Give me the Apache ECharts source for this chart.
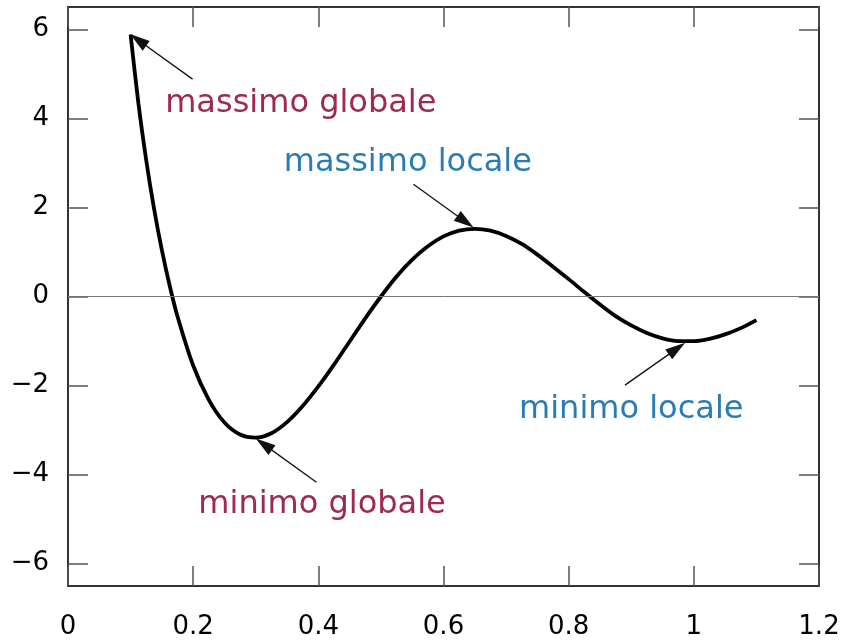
<!DOCTYPE html>
<html>
<head>
    <meta charset="utf-8">
    <script src="https://cdn.jsdelivr.net/npm/echarts@6/dist/echarts.min.js"></script>
</head>
<body style="margin:0">
    <div id="main" style="width: 844px;height:643px;"></div>
    <script type="text/javascript">
    // valori
    var xs = [0.1, 0.1125, 0.125, 0.1375, 0.15, 0.1625, 0.175, 0.2, 0.225, 0.25, 0.275, 0.3,
              0.325, 0.35, 0.375, 0.4, 0.425, 0.45, 0.475, 0.5, 0.525, 0.55, 0.575, 0.6,
              0.625, 0.65, 0.675, 0.7, 0.725, 0.75, 0.775, 0.8, 0.825, 0.85, 0.875, 0.9,
              0.925, 0.95, 0.975, 1, 1.025, 1.05, 1.075, 1.1];
    var ys = [5.88, 4.34, 3.06, 1.97, 1.04, 0.24, -0.45, -1.55, -2.32, -2.83, -3.10, -3.17,
              -3.07, -2.82, -2.46, -2.02, -1.53, -1.01, -0.49, 0, 0.45, 0.83, 1.13, 1.35,
              1.48, 1.52, 1.48, 1.36, 1.18, 0.94, 0.67, 0.39, 0.10, -0.18, -0.44, -0.65,
              -0.82, -0.94, -1.00, -1.00, -0.95, -0.85, -0.71, -0.53];
    var xTicks = [0, 0.2, 0.4, 0.6, 0.8, 1, 1.2];
    var yTicks = [-6, -4, -2, 0, 2, 4, 6];

    // etichette: testo, posizione, colore
    var labels = ['massimo globale', 'massimo locale', 'minimo locale', 'minimo globale'];
    var labelPos = [[0.372, 4.34], [0.543, 3.01], [0.900, -2.54], [0.406, -4.67]];
    var labelColor = ['#9e2a4e', '#2a7db4', '#2a7db4', '#9e2a4e'];
    // frecce: [partenza, centro della punta]
    var arrows = [
        [[0.199, 4.88], [0.112, 5.76]],
        [[0.552, 2.52], [0.635, 1.68]],
        [[0.890, -1.99], [0.973, -1.17]],
        [[0.397, -4.17], [0.313, -3.32]]
    ];

    var curve = xs.map(function (x, i) { return [x, ys[i]]; });

    var markLineData = [{ yAxis: 0, lineStyle: { color: '#777', width: 1, type: 'solid' } }];
    arrows.forEach(function (a) {
        markLineData.push([
            { coord: a[0], symbol: 'none' },
            { coord: a[1], symbol: 'triangle', symbolSize: [12, 20] }
        ]);
    });

    var myChart = echarts.init(document.getElementById('main'));
    var axisCol = '#333';
    var tickStyle = { show: true, inside: true, length: 20, lineStyle: { color: '#555', width: 1.5 } };
    myChart.setOption({
        animation: false,
        textStyle: { fontFamily: 'DejaVu Sans' },
        grid: { left: 68, right: 25, top: 7, bottom: 57 },
        xAxis: [{
            type: 'value', min: 0, max: 1.2, interval: 0.2, position: 'bottom',
            axisLine: { show: true, onZero: false, lineStyle: { color: axisCol, width: 2 } },
            axisTick: tickStyle,
            splitLine: { show: false },
            axisLabel: { fontSize: 26, color: '#000', margin: 28, fontFamily: 'DejaVu Sans' }
        }, {
            type: 'value', min: 0, max: 1.2, interval: 0.2, position: 'top',
            axisLine: { show: true, onZero: false, lineStyle: { color: axisCol, width: 2 } },
            axisTick: tickStyle,
            splitLine: { show: false },
            axisLabel: { show: false }
        }],
        yAxis: [{
            type: 'value', min: -6.5, max: 6.5, position: 'left',
            axisLine: { show: true, onZero: false, lineStyle: { color: axisCol, width: 2 } },
            axisTick: { show: true, inside: true, length: 20, customValues: yTicks, lineStyle: { color: '#555', width: 1.5 } },
            splitLine: { show: false },
            axisLabel: {
                fontSize: 26, color: '#000', margin: 19, fontFamily: 'DejaVu Sans',
                customValues: yTicks,
                formatter: function (v) { return String(v).replace('-', '\u2212'); }
            }
        }, {
            type: 'value', min: -6.5, max: 6.5, position: 'right',
            axisLine: { show: true, onZero: false, lineStyle: { color: axisCol, width: 2 } },
            axisTick: { show: true, inside: true, length: 20, customValues: yTicks, lineStyle: { color: '#555', width: 1.5 } },
            splitLine: { show: false },
            axisLabel: { show: false }
        }],
        series: [{
            type: 'line',
            data: curve,
            smooth: 0.3,
            showSymbol: false,
            lineStyle: { color: '#000', width: 3.8 },
            markLine: {
                silent: true,
                symbol: ['none', 'none'],
                label: { show: false },
                lineStyle: { color: '#111', width: 1.3, type: 'solid' },
                data: markLineData
            },
            markPoint: {
                silent: true,
                symbol: 'circle',
                symbolSize: 0,
                data: labels.map(function (t, i) {
                    return {
                        coord: labelPos[i],
                        label: {
                            show: true, position: 'inside', formatter: t,
                            fontSize: 32, color: labelColor[i], fontFamily: 'DejaVu Sans'
                        }
                    };
                })
            }
        }]
    });
    </script>
</body>
</html>
